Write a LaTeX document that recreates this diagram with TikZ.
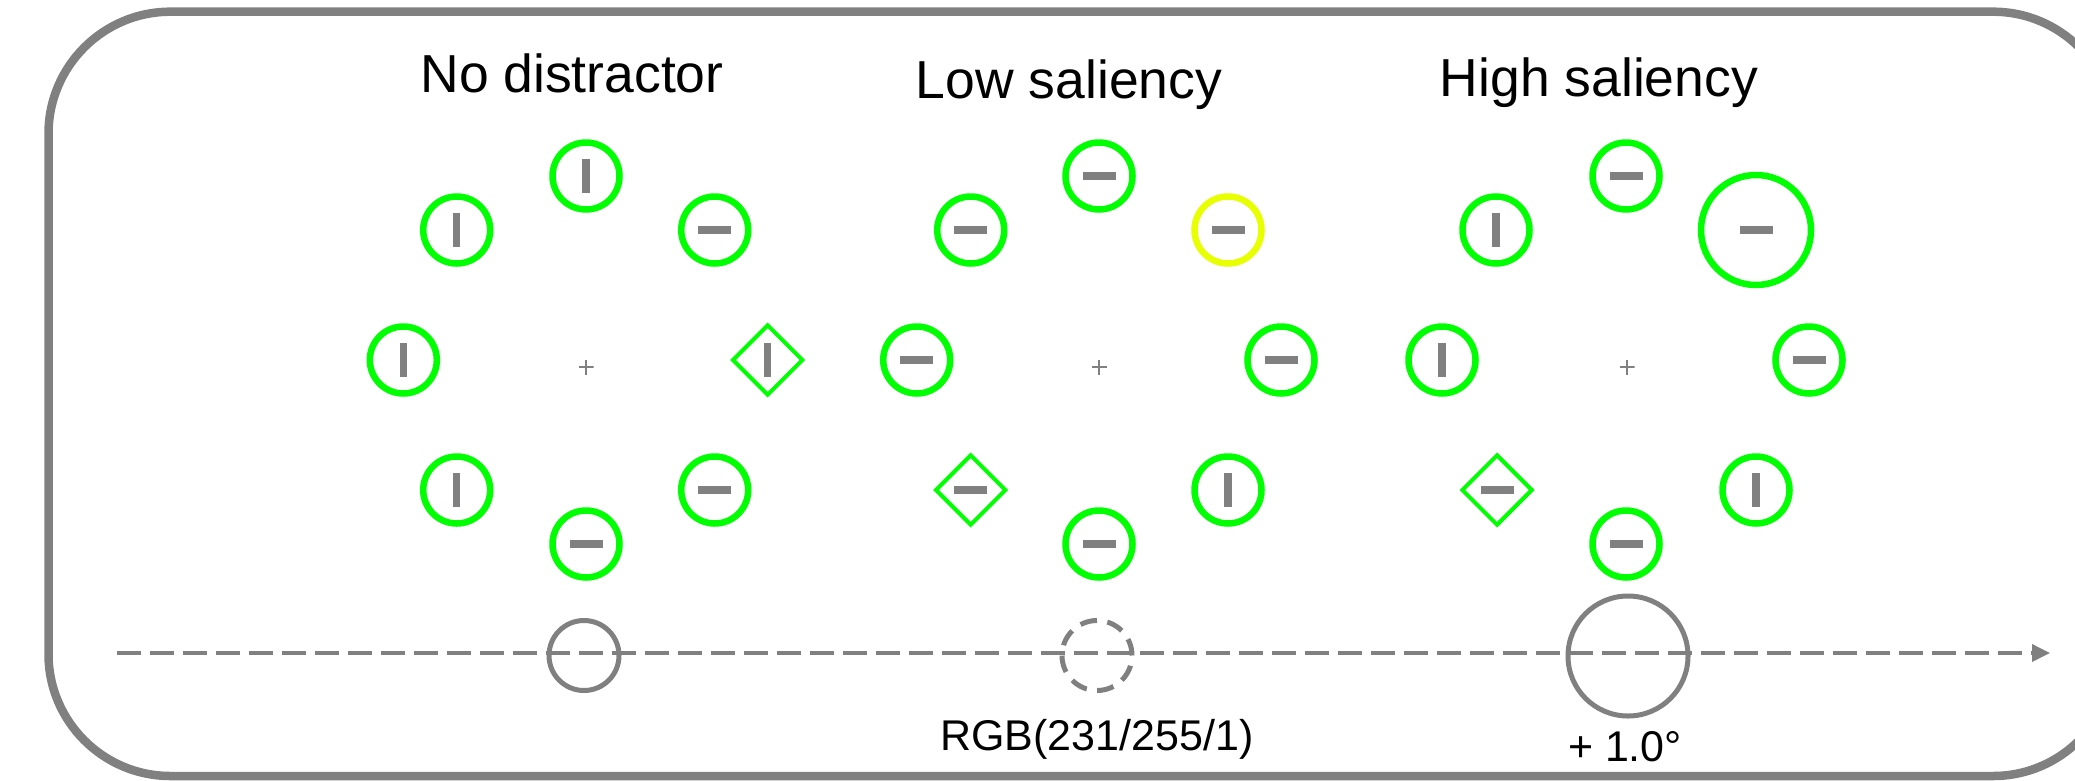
\documentclass[tikz,border=0pt]{standalone}
\usepackage{fontspec}
\setmainfont{Liberation Sans}
\usetikzlibrary{shapes.geometric,arrows.meta}
\definecolor{frameGray}{RGB}{128,128,128}
\definecolor{itemGreen}{RGB}{0,255,0}
\definecolor{itemYellow}{RGB}{231,255,1}

\begin{document}
\begin{tikzpicture}[x=1pt,y=-1pt,
  item/.style={circle, draw=itemGreen, line width=6.5pt, minimum size=67pt, inner sep=0pt},
  yellowitem/.style={item, draw=itemYellow},
  bigitem/.style={item, minimum size=110pt},
  gem/.style={diamond, aspect=1, draw=itemGreen, line width=4pt, minimum width=71pt, minimum height=71pt, inner sep=0pt},
  vbar/.style={path picture={\fill[frameGray] ([shift={(-3.75pt,-17pt)}]path picture bounding box.center) rectangle ++(7.5pt,34pt);}},
  hbar/.style={path picture={\fill[frameGray] ([shift={(-16.5pt,-3.6pt)}]path picture bounding box.center) rectangle ++(33pt,7.2pt);}},
  fixcross/.style={minimum size=15pt, inner sep=0pt,
    path picture={\draw[frameGray, line width=2.3pt]
      (path picture bounding box.north) -- (path picture bounding box.south)
      (path picture bounding box.west) -- (path picture bounding box.east);}},
  marker/.style={circle, draw=frameGray, line width=5pt, minimum size=70pt, inner sep=0pt},
  title/.style={font=\fontsize{53.5}{60}\selectfont, inner sep=0pt, anchor=base},
  note/.style={font=\fontsize{43}{48}\selectfont, inner sep=0pt, anchor=base},
  frame/.style={draw=frameGray, line width=8.5pt, rounded corners=122pt},
  timeline/.style={draw=frameGray, line width=3.6pt, dash pattern=on 24.3pt off 8.7pt,
    -{Triangle[length=18pt,width=17pt]}}
]
\useasboundingbox (0,0) rectangle (2075,780);
\clip (0,0) rectangle (2075,780);

% outer frame
\draw[frame] (48.5,11.7) rectangle (2115,776);

% titles
\node[title] (t1) at (572,92.7) {No distractor};
\node[title] (t2) at (1069,98.3) {Low saliency};
\node[title] (t3) at (1599,96.7) {High saliency};

% search display without distractor
\node[fixcross] (f1) at (586,367) {};
\node[item, vbar] (a1) at (586,176) {};
\node[item, vbar] (a2) at (456.7,230) {};
\node[item, hbar] (a3) at (714.7,230) {};
\node[item, vbar] (a4) at (403.3,360) {};
\node[gem,  vbar] (a5) at (767.7,360) {};
\node[item, vbar] (a6) at (456.7,490) {};
\node[item, hbar] (a7) at (714.7,490) {};
\node[item, hbar] (a8) at (586,544) {};

% low-saliency colour distractor
\node[fixcross] (f2) at (1099.3,367) {};
\node[item, hbar] (b1) at (1099,176) {};
\node[item, hbar] (b2) at (970.7,230) {};
\node[yellowitem, hbar] (b3) at (1228,230) {};
\node[item, hbar] (b4) at (916.7,360) {};
\node[item, hbar] (b5) at (1281,360) {};
\node[gem,  hbar] (b6) at (970.7,490) {};
\node[item, vbar] (b7) at (1228,490) {};
\node[item, hbar] (b8) at (1099,544) {};

% high-saliency size distractor
\node[fixcross] (f3) at (1627,367) {};
\node[item, hbar] (c1) at (1626,176) {};
\node[item, vbar] (c2) at (1496,230) {};
\node[bigitem, hbar] (c3) at (1756,230) {};
\node[item, vbar] (c4) at (1442,360) {};
\node[item, hbar] (c5) at (1809,360) {};
\node[gem,  hbar] (c6) at (1497,490) {};
\node[item, vbar] (c7) at (1756,490) {};
\node[item, hbar] (c8) at (1626,544) {};

% saliency axis
\coordinate (axisstart) at (116.7,653);
\coordinate (axisend) at (2050,653);
\node[marker] (m1) at (584,655.5) {};
\node[marker, dash pattern=on 17pt off 10.5pt] (m2) at (1097,655.5) {};
\node[marker, minimum size=120pt] (m3) at (1628,656) {};
\draw[timeline] (axisstart) -- (axisend);

% axis labels
\node[note] (n2) at (1097,750.7) {RGB(231/255/1)};
\node[note] (n3) at (1625,761.7) {+ 1.0°};
\end{tikzpicture}
\end{document}
